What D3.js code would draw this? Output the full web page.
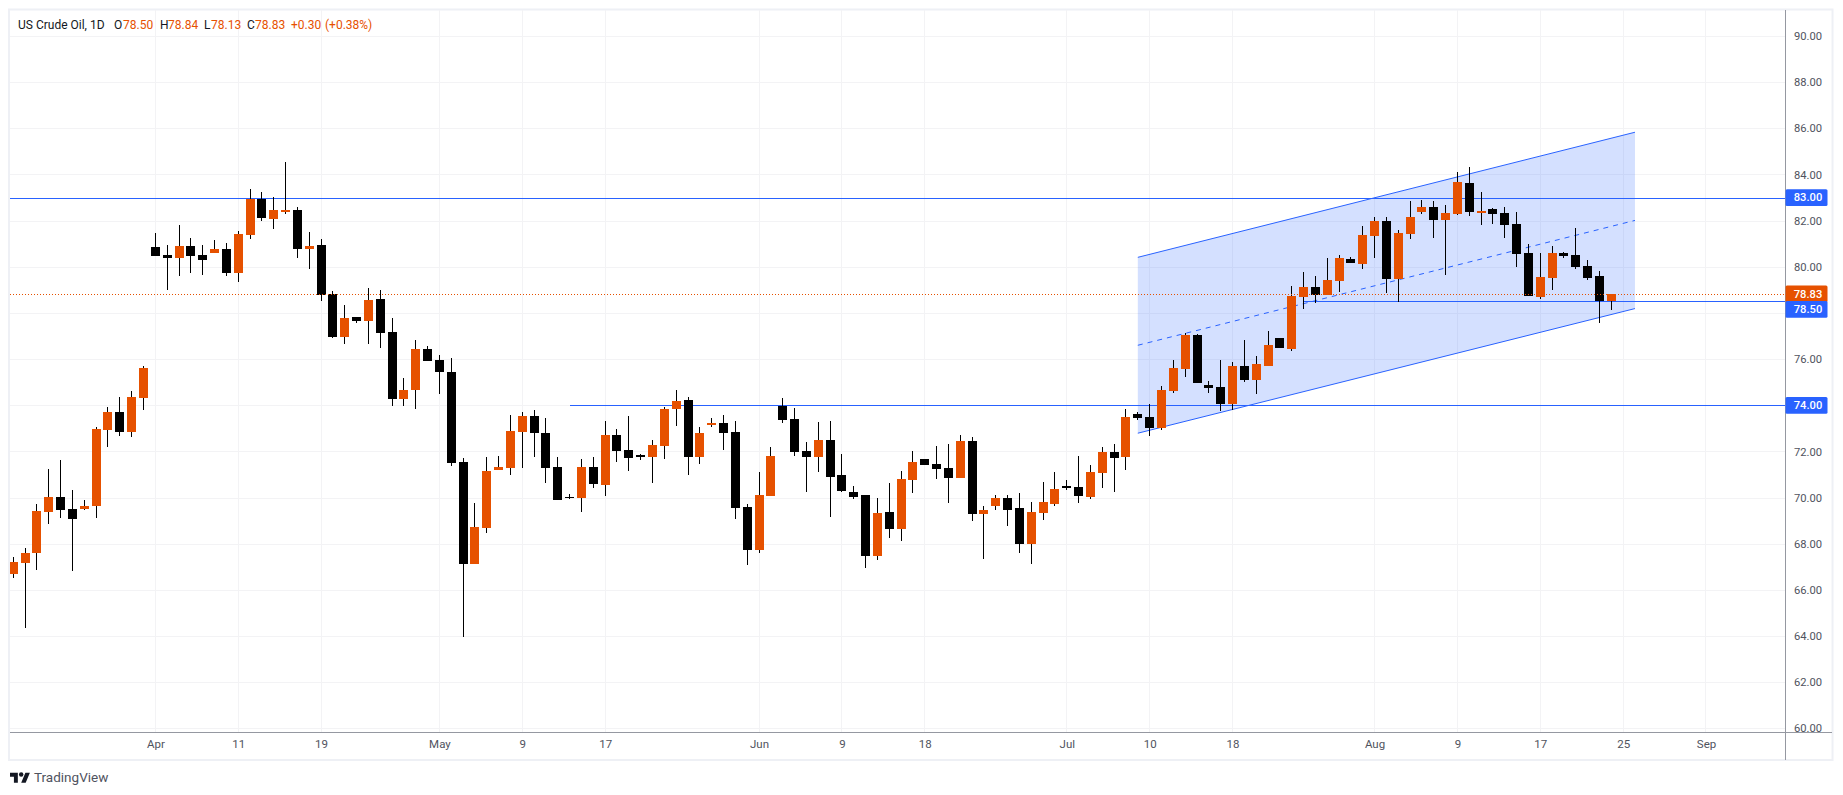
<!DOCTYPE html>
<html><head><meta charset="utf-8">
<script src="https://cdn.jsdelivr.net/npm/d3@7"></script>
<style>html,body{margin:0;padding:0;background:#fff;overflow:hidden}svg{display:block}text{font-family:Roboto,sans-serif}</style>
</head><body><svg id="c" width="1843" height="795"></svg>
<script>
const opens=[66.71,67.16,67.60,69.38,70.03,69.52,69.52,69.64,72.95,73.72,72.85,74.33,
80.84,80.50,80.40,80.88,80.50,80.59,80.76,79.75,81.36,82.93,82.06,82.36,82.45,80.76,80.93,78.81,76.98,77.84,77.63,78.59,77.19,74.29,74.68,76.42,75.98,75.46,
71.54,67.14,68.67,71.19,71.28,72.84,73.54,72.80,71.32,70.03,69.97,71.32,70.54,72.71,72.06,71.86,71.75,72.23,73.84,74.23,71.75,73.14,73.23,72.84,69.58,67.71,70.06,73.97,73.41,72.01,71.75,72.49,70.97,70.23,70.10,67.49,69.36,
68.62,70.75,71.67,71.45,71.28,70.84,72.45,69.28,69.62,69.97,69.54,67.97,69.32,69.71,70.49,70.45,70.01,71.06,71.97,71.75,73.62,73.49,73.01,74.62,
75.58,77.05,74.88,74.79,74.06,75.71,75.10,75.71,76.92,76.44,78.70,79.13,78.78,79.39,80.34,80.13,81.34,81.99,79.48,81.43,82.38,82.60,82.03,82.29,83.64,82.34,
82.51,82.34,81.86,80.60,78.70,79.52,80.60,80.52,80.04,79.61,78.50];
const closes=[67.21,67.60,69.43,70.03,69.47,69.09,69.64,72.99,73.72,72.85,74.37,75.60,
80.45,80.37,80.88,80.45,80.28,80.76,79.75,81.41,82.93,82.11,82.45,82.45,80.76,80.88,78.78,76.98,77.77,77.63,78.54,77.15,74.29,74.68,76.42,75.94,75.46,71.49,
67.14,68.71,71.14,71.32,72.88,73.54,72.80,71.28,69.88,69.97,71.32,70.58,72.71,72.01,71.71,71.75,72.28,73.84,74.19,71.75,72.80,73.23,72.80,69.54,67.71,70.10,71.80,73.36,71.97,71.75,72.49,70.88,70.28,70.01,67.49,69.32,68.62,
70.80,71.54,71.41,71.23,70.84,72.45,69.28,69.45,69.97,69.45,67.97,69.36,69.80,70.36,70.41,70.06,71.10,71.97,71.71,73.49,73.45,73.01,74.67,75.62,
77.05,74.97,74.75,74.06,75.71,75.10,75.79,76.62,76.49,78.74,79.13,78.78,79.43,80.39,80.17,81.38,81.99,79.48,81.47,82.16,82.60,82.03,82.34,83.68,82.38,82.42,
82.29,81.82,80.56,78.74,79.56,80.60,80.47,80.00,79.52,78.52,78.83];
const highs=[67.43,67.81,69.74,71.26,71.64,70.34,69.91,73.07,73.94,74.37,74.64,75.72,
81.46,80.93,81.80,81.24,80.93,81.15,81.05,81.53,83.36,83.22,83.01,84.53,82.57,81.49,81.19,78.93,78.33,77.84,79.10,78.98,77.80,75.19,76.81,76.59,76.16,76.06,
71.71,69.75,71.75,71.80,73.58,73.71,73.80,73.45,71.75,70.14,71.67,71.75,73.32,72.97,73.54,71.88,72.49,73.93,74.67,74.36,73.06,73.45,73.58,73.32,69.71,71.10,72.19,74.32,73.88,72.41,73.28,73.32,71.88,70.49,70.10,69.97,70.62,
71.14,72.01,71.67,72.23,72.32,72.71,72.62,69.62,70.10,70.10,70.19,69.80,70.67,71.10,70.75,71.80,71.41,72.19,72.32,73.84,73.71,74.06,74.84,75.97,
77.14,77.09,75.05,75.97,75.88,76.83,76.14,77.22,76.92,79.17,79.78,79.61,80.39,80.52,80.43,81.77,82.16,82.16,81.60,82.86,82.90,82.86,82.68,84.12,84.33,83.25,
82.55,82.60,82.38,80.99,80.60,80.91,80.65,81.69,80.30,79.82,78.84];
const lows=[66.50,64.36,66.88,68.87,69.12,66.82,69.47,69.12,72.20,72.68,72.64,73.81,
80.45,78.98,79.58,79.72,79.63,80.59,79.58,79.36,81.19,81.97,81.63,82.28,80.40,79.89,78.50,76.90,76.64,77.55,76.64,76.47,73.98,73.98,73.86,75.94,74.47,71.36,
63.95,67.14,68.45,71.19,70.97,71.28,71.75,70.62,69.88,69.93,69.36,70.41,70.06,71.54,71.14,71.62,70.62,71.67,73.10,70.97,71.45,73.06,72.06,69.06,67.10,67.58,70.06,73.23,71.80,70.23,71.10,69.14,70.23,69.93,66.93,67.28,68.23,
68.14,70.19,71.41,70.80,69.75,70.84,68.97,67.36,69.45,68.75,67.58,67.14,69.01,69.62,70.32,69.75,69.93,70.41,70.23,71.19,73.36,72.67,72.93,74.54,
75.23,74.97,74.53,73.75,73.80,75.01,74.49,75.71,76.49,76.36,78.18,78.44,78.78,78.91,80.17,79.91,80.39,78.87,78.48,81.21,82.29,81.25,79.65,82.25,82.21,81.82,
81.86,81.25,80.00,78.74,78.61,79.00,80.39,79.91,79.43,77.57,78.13];

const gridPrices=[90,88,86,84,82,80,78,76,74,72,70,68,66,64,62,60];
const axisPrices=[90,88,86,84,82,80,76,72,70,68,66,64,62,60];
const timeTickIndex=[12,19,26,36,43,50,63,70,77,89,96,103,115,122,129,136,143];
const timeTickLabels=["Apr","11","19","May","9","17","Jun","9","18","Jul","10","18","Aug","9","17","25","Sep"];
const hLevels=[83,78.5,74];
const hLevelStart=[-2,109,47];
const channelIndex=[95,137];
const channelUpper=[80.41,85.83];
const channelMid=[76.60,82.01];
const channelLower=[72.79,78.19];
const lastPrice=78.83;
const headerParts=[["US Crude Oil, 1D",18,"#131722"],["O",114,"#131722"],["78.50",123,"#e65100"],["H",160,"#131722"],["78.84",168,"#e65100"],["L",204,"#131722"],["78.13",211,"#e65100"],["C",247,"#131722"],["78.83",255,"#e65100"],["+0.30",291,"#e65100"],["(+0.38%)",325,"#e65100"]];

const BLUE="#2962ff",ORANGE="#e65100",GRID="#f3f3f5";
const svg=d3.select("#c");
const L=10,R=1785.5,T=10,B=732;
const x=d3.scaleLinear().domain([0,135]).range([13.3,1611.3]);
const y=d3.scaleLinear().domain([60,90]).range([728.4,36.0]);
const px=v=>Math.floor(v), py=v=>Math.round(v);

// outer frame
svg.append("rect").attr("x",9).attr("y",9.5).attr("width",1823.5).attr("height",750.5).attr("fill","none").attr("stroke","#eef0f5").attr("stroke-width",2);

svg.append("defs").append("clipPath").attr("id","pane").append("rect").attr("x",L).attr("y",T).attr("width",R-L).attr("height",B-T);
const pane=svg.append("g").attr("clip-path","url(#pane)");

// grid
const grid=pane.append("g").attr("shape-rendering","crispEdges").attr("stroke",GRID);
grid.selectAll(".h").data(gridPrices).join("line").attr("x1",L).attr("x2",R).attr("y1",d=>py(y(d))+.5).attr("y2",d=>py(y(d))+.5);
grid.selectAll(".v").data(timeTickIndex).join("line").attr("y1",T).attr("y2",B).attr("x1",d=>px(x(d))+.5).attr("x2",d=>px(x(d))+.5);

// channel
const cx=channelIndex.map(x);
pane.append("path").attr("fill",BLUE).attr("fill-opacity",.2)
 .attr("d",d3.line()([[cx[0],y(channelUpper[0])],[cx[1],y(channelUpper[1])],[cx[1],y(channelLower[1])],[cx[0],y(channelLower[0])]])+"Z");
[[channelUpper,null],[channelLower,null],[channelMid,"5 5"]].forEach(([v,dash])=>{
 pane.append("line").attr("x1",cx[0]).attr("x2",cx[1]).attr("y1",y(v[0])).attr("y2",y(v[1]))
  .attr("stroke",BLUE).attr("stroke-width",1).attr("stroke-dasharray",dash);
});

// horizontal levels
pane.append("g").attr("shape-rendering","crispEdges").selectAll("line").data(hLevels).join("line")
 .attr("x1",(d,i)=>x(hLevelStart[i])).attr("x2",R)
 .attr("y1",d=>py(y(d))+.5).attr("y2",d=>py(y(d))+.5).attr("stroke",BLUE);

// candles
const idx=d3.range(opens.length);
const cg=pane.append("g").attr("shape-rendering","crispEdges");
cg.selectAll(".w").data(idx).join("rect")
 .attr("x",i=>px(x(i))).attr("width",1)
 .attr("y",i=>py(y(highs[i]))).attr("height",i=>Math.max(1,py(y(lows[i]))-py(y(highs[i]))))
 .attr("fill","#000");
cg.selectAll(".b").data(idx).join("rect")
 .attr("x",i=>px(x(i))-4).attr("width",9)
 .attr("y",i=>py(y(Math.max(opens[i],closes[i]))))
 .attr("height",i=>Math.max(1,py(y(Math.min(opens[i],closes[i])))-py(y(Math.max(opens[i],closes[i])))))
 .attr("fill",i=>closes[i]>=opens[i]?ORANGE:"#000");

// last price dotted line
pane.append("line").attr("x1",L).attr("x2",R).attr("y1",py(y(lastPrice))+.5).attr("y2",py(y(lastPrice))+.5)
 .attr("stroke",ORANGE).attr("stroke-dasharray","1 2").attr("shape-rendering","crispEdges");

// axes
const rAxis=d3.axisRight(y).tickValues(axisPrices).tickFormat(d3.format(".2f")).tickSize(0).tickPadding(0);
const ra=svg.append("g").attr("transform",`translate(${R},0)`).call(rAxis);
ra.select(".domain").remove();
ra.selectAll("text").attr("x",22.5).attr("text-anchor","middle").style("font-size","11.2px").attr("fill","#50535e").style("font-family","Roboto,sans-serif");
const bAxis=d3.axisBottom(x).tickValues(timeTickIndex).tickFormat((d,i)=>timeTickLabels[i]).tickSize(0).tickPadding(0);
const ba=svg.append("g").attr("transform",`translate(0,${B})`).call(bAxis);
ba.select(".domain").remove();
ba.selectAll("text").attr("y",8).style("font-size","11.5px").attr("fill","#50535e").style("font-family","Roboto,sans-serif");
svg.append("g").attr("shape-rendering","crispEdges").attr("stroke","#9598a1").call(g=>{
 g.append("line").attr("x1",R).attr("x2",R).attr("y1",T).attr("y2",760);
 g.append("line").attr("x1",L).attr("x2",1832).attr("y1",B+.5).attr("y2",B+.5);
});

// price labels
const labels=[[83,BLUE,0],[78.83,ORANGE,0],[78.5,BLUE,8],[74,BLUE,0]];
labels.forEach(([p,col,dy])=>{
 const cy=y(p)+dy;
 svg.append("rect").attr("x",R).attr("y",cy-8.4).attr("width",42).attr("height",16.8).attr("rx",1.5).attr("fill",col);
 svg.append("text").attr("x",R+22.5).attr("y",cy).attr("dy","0.35em").attr("text-anchor","middle").attr("fill","#fff").style("font-size","11.2px").style("font-weight","500").text(d3.format(".2f")(p));
});

// header
svg.append("g").selectAll("text").data(headerParts).join("text").attr("x",d=>d[1]).attr("y",28.5).attr("fill",d=>d[2]).style("font-size","12px").text(d=>d[0]);

// logo
const logo=svg.append("g").attr("transform","translate(10,770.5) scale(0.56)").attr("fill","#131722");
logo.append("path").attr("d","M14 22H7V11H0V4h14v18zM28 22h-8l7.5-18h8L28 22z");
logo.append("circle").attr("cx",20).attr("cy",7).attr("r",4);
svg.append("text").attr("x",34).attr("y",782).attr("fill","#50535e").style("font-size","13.5px").text("TradingView");
</script></body></html>
